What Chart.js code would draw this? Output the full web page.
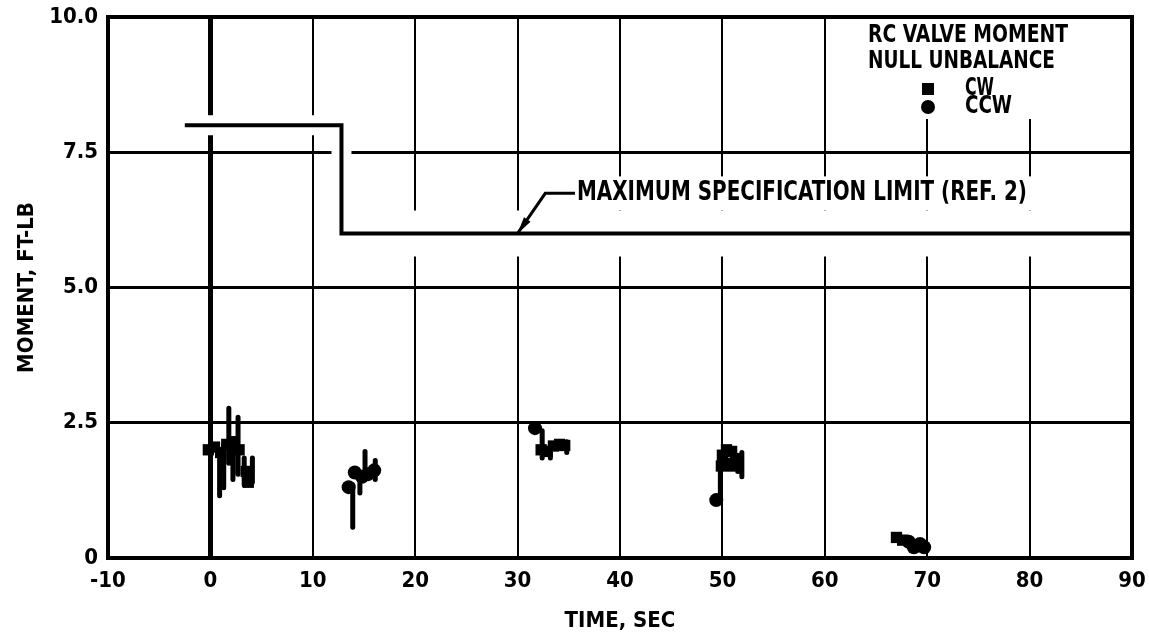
<!DOCTYPE html>
<html>
<head>
<meta charset="utf-8">
<script src="https://cdn.jsdelivr.net/npm/chart.js@4.4.1/dist/chart.umd.min.js"></script>
<style>
  html, body { margin: 0; padding: 0; background: #fff; }
  #wrap { width: 1149px; height: 644px; }
</style>
</head>
<body>
<div id="wrap"><canvas id="c" width="1149" height="644"></canvas></div>
<script>
const FONT = "'DejaVu Sans Condensed', 'DejaVu Sans', sans-serif";

// Axis ticks: time (sec) and moment (ft-lb)
const timeTicks = [-10, 0, 10, 20, 30, 40, 50, 60, 70, 80, 90];
const momentTicks = [0, 2.5, 5.0, 7.5, 10.0];
const momentTickLabels = ['0', '2.5', '5.0', '7.5', '10.0'];

// Maximum specification limit (ref. 2)
const limitTime   = [-2.5, 12.8, 12.8, 90];
const limitMoment = [8.0, 8.0, 6.0, 6.0];

// RC valve moment null unbalance, clockwise readings
const cwTime   = [-0.2, 0.4, 1.0, 1.6, 2.2, 2.8, 3.5, 3.7, 32.3, 32.9, 33.5, 34.1, 34.6, 49.9, 50.0, 50.4, 50.5, 50.9, 51.0, 51.3, 67.0, 67.6];
const cwMoment = [2.0, 2.05, 1.95, 2.1, 2.15, 2.0, 1.6, 1.4, 2.0, 1.97, 2.07, 2.1, 2.08, 1.7, 1.9, 2.0, 1.75, 1.97, 1.7, 1.8, 0.38, 0.33];

// Counter-clockwise readings
const ccwTime   = [13.5, 14.1, 14.8, 15.4, 16.0, 31.7, 49.4, 68.2, 68.7, 69.3, 69.7];
const ccwMoment = [1.31, 1.58, 1.5, 1.55, 1.62, 2.4, 1.07, 0.3, 0.2, 0.26, 0.2];

// Recorded excursions around the readings (null breaks the trace)
const traceTime   = [0.9, 0.9, 0.9, 1.3, 1.3, 1.3, 1.8, 1.8, 1.8, 2.2, 2.2, 2.2, 2.7, 2.7, 2.7, 3.3, 3.3, 3.3, 4.1, 4.1, 4.1,
                     13.9, 13.9, 13.9, 14.6, 14.6, 14.6, 15.1, 15.1, 15.1, 16.1, 16.1, 16.1,
                     32.4, 32.4, 32.4, 33.2, 33.2, 33.2, 34.8, 34.8, 34.8,
                     49.8, 49.8, 49.8, 51.5, 51.5, 51.5, 51.9, 51.9];
const traceMoment = [1.15, 2.0, null, 1.3, 2.1, null, 1.75, 2.77, null, 1.45, 2.05, null, 1.55, 2.6, null, 1.35, 1.85, null, 1.4, 1.85, null,
                     0.57, 1.35, null, 1.2, 1.5, null, 1.45, 1.97, null, 1.45, 1.8, null,
                     1.85, 2.35, null, 1.85, 2.1, null, 1.95, 2.15, null,
                     1.1, 1.95, null, 1.6, 1.9, null, 1.5, 1.95];

const pts = (xs, ys) => xs.map((x, i) => ({ x, y: ys[i] }));

// Frame around the plotting area
const framePlugin = {
  id: 'frame',
  afterDraw(chart) {
    const { ctx, chartArea: a } = chart;
    ctx.save();
    ctx.strokeStyle = '#000';
    ctx.lineWidth = 4;
    ctx.strokeRect(a.left, a.top, a.right - a.left, a.bottom - a.top);
    ctx.restore();
  }
};

// Bold, narrow lettering fitted to a given width
function letter(ctx, text, x, y, size, width) {
  ctx.save();
  ctx.font = `bold ${size}px ${FONT}`;
  ctx.textBaseline = 'middle';
  ctx.textAlign = 'left';
  const w = ctx.measureText(text).width;
  ctx.translate(x, y);
  ctx.scale(width / w, 1);
  ctx.fillStyle = '#000';
  ctx.fillText(text, 0, 0);
  ctx.restore();
}

// Key in the upper right corner
const keyPlugin = {
  id: 'key',
  afterDatasetsDraw(chart) {
    const { ctx, chartArea: a } = chart;
    const left = a.right - 264;
    ctx.save();
    ctx.fillStyle = '#fff';
    ctx.fillRect(left - 8, a.top + 2, 216, 100);
    ctx.restore();
    letter(ctx, 'RC VALVE MOMENT', left, a.top + 19, 24, 200);
    letter(ctx, 'NULL UNBALANCE', left, a.top + 45, 24, 187);
    const cw = chart.data.datasets[3], ccw = chart.data.datasets[4];
    ctx.save();
    ctx.fillStyle = cw.backgroundColor;
    ctx.fillRect(left + 54, a.top + 66, 12, 12);
    ctx.fillStyle = ccw.backgroundColor;
    ctx.beginPath();
    ctx.arc(left + 60, a.top + 90, 7, 0, Math.PI * 2);
    ctx.fill();
    ctx.restore();
    letter(ctx, cw.label, left + 97, a.top + 72, 24, 29);
    letter(ctx, ccw.label, left + 97, a.top + 90, 24, 47);
  }
};

// Callout naming the specification limit line
const calloutPlugin = {
  id: 'callout',
  afterDatasetsDraw(chart) {
    const { ctx, scales: { x, y } } = chart;
    const opt = chart.options.plugins.callout;
    const ax = x.getPixelForValue(opt.anchor[0]), ay = y.getPixelForValue(opt.anchor[1]);
    const ex = x.getPixelForValue(opt.elbow[0]),  ey = y.getPixelForValue(opt.elbow[1]);
    const tx = x.getPixelForValue(opt.textAt[0]), ty = y.getPixelForValue(opt.textAt[1]);
    ctx.save();
    ctx.fillStyle = '#fff';
    ctx.fillRect(ex, ty - 17, opt.width + (tx - ex) + 8, 34);
    ctx.strokeStyle = '#000';
    ctx.lineWidth = 3;
    ctx.beginPath();
    ctx.moveTo(ax, ay);
    ctx.lineTo(ex, ey);
    ctx.lineTo(tx, ey);
    ctx.stroke();
    // arrow head on the limit line
    const ang = Math.atan2(ay - ey, ax - ex);
    ctx.fillStyle = '#000';
    ctx.beginPath();
    ctx.moveTo(ax, ay);
    ctx.lineTo(ax - 17 * Math.cos(ang) + 4 * Math.sin(ang), ay - 17 * Math.sin(ang) - 4 * Math.cos(ang));
    ctx.lineTo(ax - 17 * Math.cos(ang) - 4 * Math.sin(ang), ay - 17 * Math.sin(ang) + 4 * Math.cos(ang));
    ctx.closePath();
    ctx.fill();
    ctx.restore();
    letter(ctx, opt.text, tx + 2, ty, 26, opt.width);
  }
};

const limitPts = pts(limitTime, limitMoment);

new Chart(document.getElementById('c'), {
  data: {
    datasets: [
      {
        type: 'line', label: 'limit clearance', data: limitPts,
        borderColor: '#fff', borderWidth: 20, borderCapStyle: 'butt',
        pointRadius: 0, order: 10,
        segment: { borderWidth: c => (c.p0DataIndex >= 2 ? 46 : 20) }
      },
      {
        type: 'line', label: 'MAXIMUM SPECIFICATION LIMIT (REF. 2)', data: limitPts,
        borderColor: '#000', borderWidth: 4, borderJoinStyle: 'miter',
        pointRadius: 0, order: 5
      },
      {
        type: 'line', label: 'trace', data: pts(traceTime, traceMoment),
        borderColor: '#000', borderWidth: 5, borderCapStyle: 'round',
        pointRadius: 0, spanGaps: false, order: 4
      },
      {
        type: 'scatter', label: 'CW', data: pts(cwTime, cwMoment),
        pointStyle: 'rect', pointRadius: 8, backgroundColor: '#000', borderWidth: 0, order: 2
      },
      {
        type: 'scatter', label: 'CCW', data: pts(ccwTime, ccwMoment),
        pointStyle: 'circle', pointRadius: 7, backgroundColor: '#000', borderWidth: 0, order: 1
      }
    ]
  },
  options: {
    responsive: false,
    animation: false,
    devicePixelRatio: 1,
    layout: { padding: { left: 0, right: 17, top: 17, bottom: 0 } },
    plugins: {
      legend: { display: false },
      tooltip: { enabled: false },
      callout: {
        text: 'MAXIMUM SPECIFICATION LIMIT (REF. 2)',
        anchor: [30.0, 6.0], elbow: [32.7, 6.74], textAt: [35.6, 6.74], width: 450
      }
    },
    scales: {
      x: {
        type: 'linear', min: -10, max: 90,
        afterBuildTicks: s => { s.ticks = timeTicks.map(v => ({ value: v })); },
        afterFit: s => { s.height = 86; s.paddingLeft = 0; s.paddingRight = 0; },
        grid: { color: '#000', lineWidth: c => (c.tick && c.tick.value === 0 ? 5 : 2), drawTicks: false },
        border: { display: false },
        ticks: { color: '#000', font: { family: FONT, weight: 'bold', size: 22 }, padding: 10, maxRotation: 0, autoSkip: false },
        title: { display: true, text: 'TIME, SEC', color: '#000', font: { family: FONT, weight: 'bold', size: 22 }, padding: { top: 4, bottom: 10 } }
      },
      y: {
        type: 'linear', min: 0, max: 10,
        afterBuildTicks: s => { s.ticks = momentTicks.map(v => ({ value: v })); },
        afterFit: s => { s.width = 108; s.paddingTop = 0; s.paddingBottom = 0; },
        grid: { color: '#000', lineWidth: 3, drawTicks: false },
        border: { display: false },
        ticks: {
          color: '#000', font: { family: FONT, weight: 'bold', size: 22 }, padding: 10,
          callback: v => momentTickLabels[momentTicks.indexOf(v)]
        },
        title: { display: true, text: 'MOMENT, FT-LB', color: '#000', font: { family: FONT, weight: 'bold', size: 22 }, padding: { top: 14, bottom: 0 } }
      }
    }
  },
  plugins: [calloutPlugin, keyPlugin, framePlugin]
});
</script>
</body>
</html>
